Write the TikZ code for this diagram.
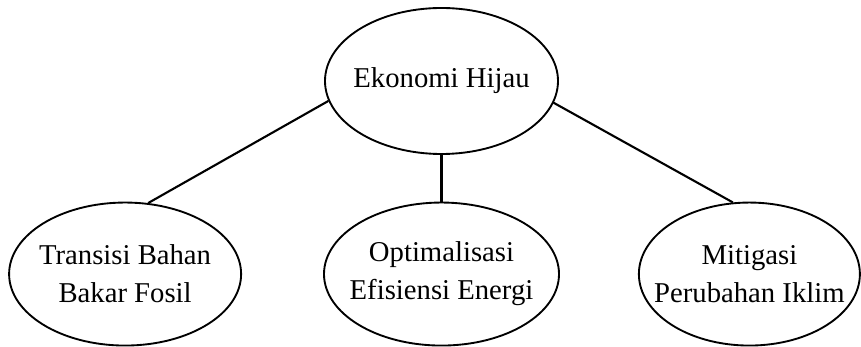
\documentclass[tikz,border=0pt]{standalone}
\usepackage{fontspec}
\setmainfont{Liberation Serif}
\usepackage{tikz}
\usetikzlibrary{shapes.geometric, positioning}

\begin{document}
\begin{tikzpicture}[x=0.03cm, y=-0.03cm, node distance=1.44cm]
    % Styles
    \tikzstyle{bubble} = [ellipse, draw, line width=1.6pt, inner sep=-0.6cm, align=center, minimum height=4.29cm, font=\fontsize{24.5}{32.5}\selectfont]
    \tikzstyle{line} = [draw, line width=1.8pt]

    \useasboundingbox (0,0) rectangle (861,347);

    % Nodes
    \node [bubble, minimum width=6.99cm, minimum height=4.38cm] (hijau) at (441.5,81) {Ekonomi Hijau};
    \node [bubble, minimum width=7.05cm, below=1.4cm of hijau] (efisiensi) {Optimalisasi\\Efisiensi Energi};
    \node [bubble, minimum width=6.96cm, left=2.43cm of efisiensi] (transisi) {Transisi Bahan\\Bakar Fosil};
    \node [bubble, minimum width=6.63cm, right=2.34cm of efisiensi] (mitigasi) {Mitigasi\\Perubahan Iklim};

    % Paths
    \path [line] (hijau.190) -- (transisi.72);
    \path [line] (hijau.south) -- (hijau.south |- efisiensi.north);
    \path [line] (hijau.349) -- (mitigasi.103);
\end{tikzpicture}
\end{document}
